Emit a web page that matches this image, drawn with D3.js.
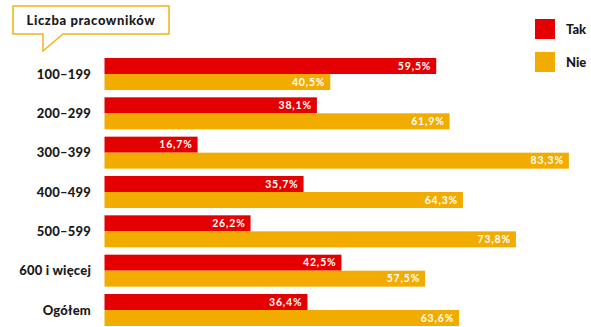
<!DOCTYPE html>
<html>
<head>
<meta charset="utf-8">
<script src="https://cdn.jsdelivr.net/npm/d3@7"></script>
<style>
  body { margin: 0; background: #fff; }
  svg text { font-family: "Lato", "DejaVu Sans", sans-serif; }
</style>
</head>
<body>
<div id="chart"></div>
<script>
"use strict";
const categories = ["100–199", "200–299", "300–399", "400–499", "500–599", "600 i więcej", "Ogółem"];
const series = ["Tak", "Nie"];
const takValues = [59.5, 38.1, 16.7, 35.7, 26.2, 42.5, 36.4];
const nieValues = [40.5, 61.9, 83.3, 64.3, 73.8, 57.5, 63.6];
const title = "Liczba pracowników";

const width = 591, height = 327;
const colors = { Tak: "#e40000", Nie: "#f2ac00" };

const svg = d3.select("#chart").append("svg")
    .attr("width", width)
    .attr("height", height);

const x = d3.scaleLinear().domain([0, 100]).range([104.5, 662]);
const y = d3.scaleBand().domain(categories)
    .range([54.33, 329.67])
    .paddingInner(0.1864)
    .paddingOuter(0.0932);
const ySub = d3.scaleBand().domain(series).range([0, y.bandwidth()]);

const pl = d3.formatLocale({ decimal: ",", thousands: " ", grouping: [3], currency: ["", ""] });
const fmt = pl.format(".1f");

const rows = categories.map((c, i) => ({ cat: c, Tak: takValues[i], Nie: nieValues[i] }));

const group = svg.append("g").selectAll("g")
    .data(rows)
    .enter()
    .append("g")
    .attr("transform", d => `translate(0, ${y(d.cat)})`);

group.selectAll("rect")
    .data(d => series.map(s => ({ s, v: d[s] })))
    .enter()
    .append("rect")
    .attr("x", x(0))
    .attr("y", d => ySub(d.s))
    .attr("width", d => x(d.v) - x(0))
    .attr("height", ySub.bandwidth())
    .attr("fill", d => colors[d.s]);

group.selectAll("text.val")
    .data(d => series.map(s => ({ s, v: d[s] })))
    .enter()
    .append("text")
    .attr("class", "val")
    .attr("x", d => x(d.v) - 5)
    .attr("y", d => ySub(d.s) + ySub.bandwidth() / 2)
    .attr("dy", "0.35em")
    .attr("text-anchor", "end")
    .attr("fill", "#fff")
    .style("font-size", "10.5px")
    .style("font-weight", "bold")
    .style("letter-spacing", "0.8px")
    .text(d => fmt(d.v) + "%");

group.append("text")
    .attr("x", 91)
    .attr("y", y.bandwidth() / 2)
    .attr("dy", "0.35em")
    .attr("text-anchor", "end")
    .attr("fill", "#1a1a1a")
    .style("font-size", "13px")
    .style("font-weight", "900")
    .style("letter-spacing", "0.2px")
    .text(d => d.cat);

// callout box
svg.append("path")
    .attr("d", "M13,6 H169 V34 H63 L43,51 V34 H13 Z")
    .attr("fill", "#fff")
    .attr("stroke", "#f2b21b")
    .attr("stroke-width", 1.5)
    .attr("stroke-linejoin", "miter");
svg.append("text")
    .attr("x", 91)
    .attr("y", 20)
    .attr("dy", "0.35em")
    .attr("text-anchor", "middle")
    .attr("fill", "#1a1a1a")
    .style("font-size", "13px")
    .style("font-weight", "900")
    .style("letter-spacing", "0.6px")
    .text(title);

// legend
const legend = svg.append("g").selectAll("g")
    .data(series)
    .enter()
    .append("g")
    .attr("transform", (d, i) => `translate(535, ${19 + i * 33})`);
legend.append("rect")
    .attr("width", 20)
    .attr("height", 20)
    .attr("fill", d => colors[d]);
legend.append("text")
    .attr("x", 31)
    .attr("y", 10)
    .attr("dy", "0.35em")
    .attr("fill", "#1a1a1a")
    .style("font-size", "13px")
    .style("font-weight", "900")
    .text(d => d);
</script>
</body>
</html>
